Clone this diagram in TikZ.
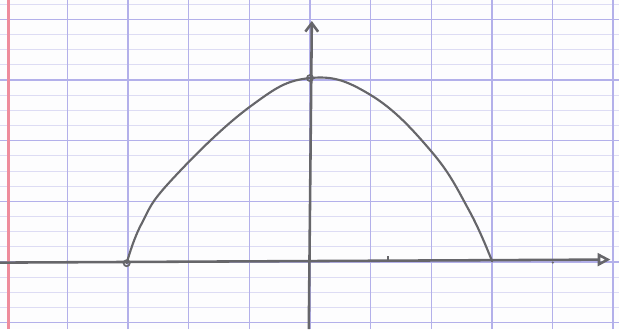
\documentclass[tikz,border=0pt]{standalone}
\usepackage{tikz}
\usetikzlibrary{arrows.meta}
\definecolor{paperbg}{HTML}{FDFDFE}
\definecolor{gridblue}{HTML}{B3B0EA}
\definecolor{gridminor}{HTML}{DDDCF4}
\definecolor{marginred}{HTML}{EE8C9C}
\definecolor{pencil}{HTML}{66666A}

\begin{document}
\begin{tikzpicture}[
  minorline/.style={draw=gridminor,line width=0.4pt},
  majorline/.style={draw=gridblue,line width=0.6pt},
  axisline/.style={draw=pencil,line width=1.2pt},
  curveline/.style={draw=pencil,line width=1pt,line cap=round},
  ptmark/.style={draw=pencil,line width=0.8pt}
]
\useasboundingbox[fill=paperbg] (-5.107,-1.104) rectangle (5.09,4.316);
% paper grid
\foreach \y in {-1,-0.75,...,4.3} \draw[minorline] (-5.107,\y) -- (5.09,\y);
\foreach \y in {-1,0,...,4} \draw[majorline] (-5.107,\y) -- (5.09,\y);
\foreach \x in {-4,-3,...,4,4.99} \draw[majorline] (\x,-1.104) -- (\x,4.316);
\draw[draw=marginred,line width=1.2pt] (-4.97,-1.104) -- (-4.97,4.316);
% axes
\coordinate (o) at (0,0);
\coordinate (xl) at (-5.107,-0.01);
\coordinate (xr) at (4.95,0.04);
\coordinate (yb) at (-0.02,-1.104);
\coordinate (yt) at (0.03,3.97);
\draw[axisline,-{Triangle[open,length=6pt,width=6pt]}] (xl) -- (xr);
\draw[axisline,-{Straight Barb[length=4pt,width=6pt]}] (yb) -- (yt);
% the curve
\coordinate (left) at (-3.02,-0.02);
\coordinate (top) at (0,3.03);
\coordinate (right) at (3,0.01);
\draw[curveline] plot[smooth,tension=0.7] coordinates {
  (left) (-2.78,0.62) (-2.3,1.33) (-1,2.55) (top)
  (1,2.75) (2,1.82) (2.62,0.85) (right)};
\draw[ptmark] (left) circle (0.05);
\draw[ptmark] (top) circle (0.05);
% ticks
\draw[ptmark] (1.29,0.02) -- (1.29,0.1);
\fill[pencil] (4,-0.01) circle (0.02);
\end{tikzpicture}
\end{document}
